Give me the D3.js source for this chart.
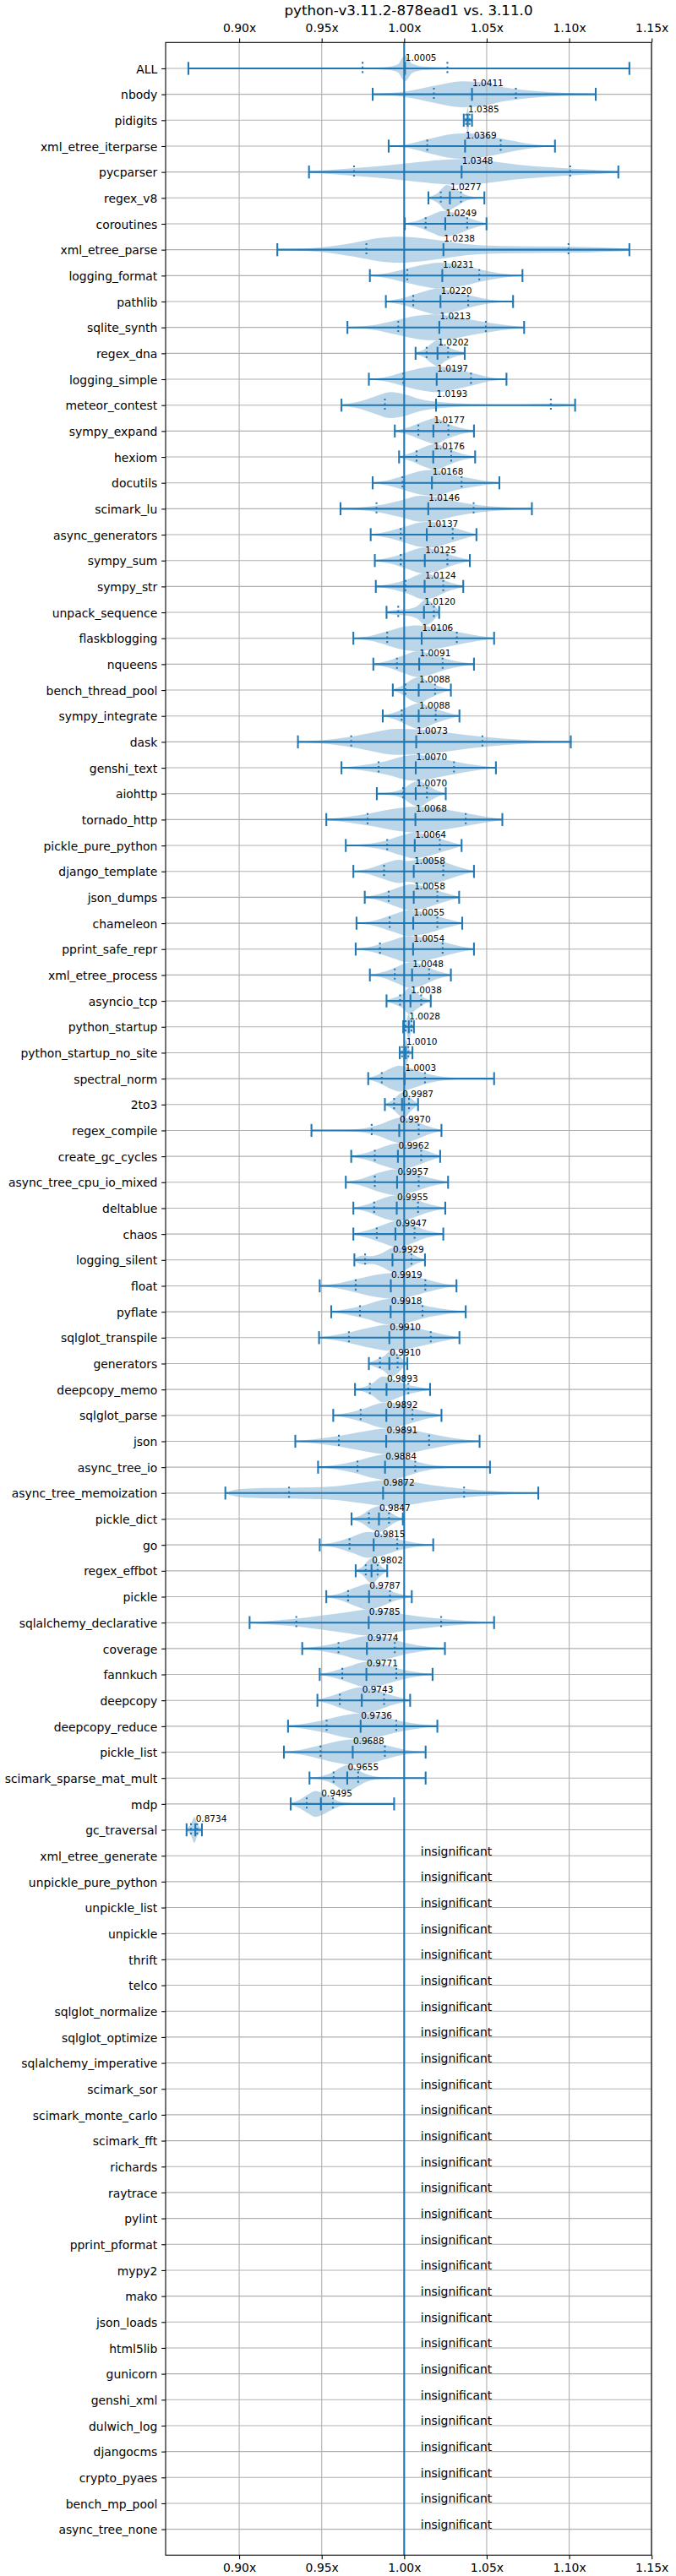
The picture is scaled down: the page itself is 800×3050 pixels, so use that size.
<!DOCTYPE html>
<html>
<head>
<meta charset="utf-8">
<script src="https://cdn.jsdelivr.net/npm/d3@7/dist/d3.min.js"></script>
<style>
  body { margin: 0; background: #fff; }
  svg { display: block; font-family: "DejaVu Sans", sans-serif; }
</style>
</head>
<body>
<svg id="chart" width="800" height="3050"></svg>
<script>
const title = "python-v3.11.2-878ead1 vs. 3.11.0";
const xTicks = [0.90, 0.95, 1.00, 1.05, 1.10, 1.15];

const names = ["ALL","nbody","pidigits","xml_etree_iterparse","pycparser","regex_v8","coroutines","xml_etree_parse","logging_format","pathlib","sqlite_synth","regex_dna","logging_simple","meteor_contest","sympy_expand","hexiom","docutils","scimark_lu","async_generators","sympy_sum","sympy_str","unpack_sequence","flaskblogging","nqueens","bench_thread_pool","sympy_integrate","dask","genshi_text","aiohttp","tornado_http","pickle_pure_python","django_template","json_dumps","chameleon","pprint_safe_repr","xml_etree_process","asyncio_tcp","python_startup","python_startup_no_site","spectral_norm","2to3","regex_compile","create_gc_cycles","async_tree_cpu_io_mixed","deltablue","chaos","logging_silent","float","pyflate","sqlglot_transpile","generators","deepcopy_memo","sqlglot_parse","json","async_tree_io","async_tree_memoization","pickle_dict","go","regex_effbot","pickle","sqlalchemy_declarative","coverage","fannkuch","deepcopy","deepcopy_reduce","pickle_list","scimark_sparse_mat_mult","mdp","gc_traversal"];

const means = [1.0005,1.0411,1.0385,1.0369,1.0348,1.0277,1.0249,1.0238,1.0231,1.0220,1.0213,1.0202,1.0197,1.0193,1.0177,1.0176,1.0168,1.0146,1.0137,1.0125,1.0124,1.0120,1.0106,1.0091,1.0088,1.0088,1.0073,1.0070,1.0070,1.0068,1.0064,1.0058,1.0058,1.0055,1.0054,1.0048,1.0038,1.0028,1.0010,1.0003,0.9987,0.9970,0.9962,0.9957,0.9955,0.9947,0.9929,0.9919,0.9918,0.9910,0.9910,0.9893,0.9892,0.9891,0.9884,0.9872,0.9847,0.9815,0.9802,0.9787,0.9785,0.9774,0.9771,0.9743,0.9736,0.9688,0.9655,0.9495,0.8734];

const mins = [0.8692,0.9809,1.0361,0.9906,0.9423,1.0147,1.0004,0.9231,0.9792,0.9889,0.9656,1.0069,0.9786,0.9620,0.9943,0.9969,0.9809,0.9614,0.9797,0.9822,0.9828,0.9893,0.9692,0.9813,0.9931,0.9870,0.9356,0.9620,0.9834,0.9528,0.9646,0.9692,0.9761,0.9711,0.9706,0.9792,0.9893,0.9994,0.9973,0.9782,0.9883,0.9438,0.9679,0.9646,0.9692,0.9692,0.9698,0.9488,0.9558,0.9484,0.9786,0.9702,0.9570,0.9340,0.9478,0.8916,0.9681,0.9488,0.9706,0.9528,0.9063,0.9382,0.9488,0.9474,0.9296,0.9271,0.9426,0.9312,0.8681];

const maxs = [1.1365,1.1161,1.0411,1.0914,1.1298,1.0486,1.0499,1.1365,1.0717,1.0660,1.0727,1.0367,1.0620,1.1036,1.0423,1.0430,1.0577,1.0774,1.0438,1.0398,1.0358,1.0212,1.0545,1.0423,1.0283,1.0335,1.1010,1.0556,1.0252,1.0595,1.0348,1.0423,1.0333,1.0352,1.0423,1.0283,1.0161,1.0059,1.0050,1.0545,1.0084,1.0226,1.0218,1.0266,1.0249,1.0237,1.0126,1.0317,1.0373,1.0335,1.0019,1.0157,1.0226,1.0457,1.0520,1.0813,0.9992,1.0176,0.9897,1.0046,1.0545,1.0247,1.0172,1.0036,1.0201,1.0130,1.0130,0.9939,0.8774];

const qLow = [0.9748,1.0180,1.0375,1.0140,0.9696,1.0222,1.0130,0.9771,1.0019,1.0055,0.9964,1.0136,0.9995,0.9883,1.0086,1.0075,0.9990,0.9832,0.9979,0.9979,1.0008,0.9964,0.9897,0.9956,1.0008,0.9985,0.9679,0.9845,0.9994,0.9778,0.9897,0.9878,0.9906,0.9912,0.9853,0.9943,0.9975,1.0008,0.9987,0.9864,0.9939,0.9803,0.9822,0.9822,0.9818,0.9834,0.9763,0.9706,0.9732,0.9665,0.9853,0.9792,0.9736,0.9604,0.9717,0.9302,0.9786,0.9669,0.9767,0.9660,0.9346,0.9602,0.9625,0.9610,0.9530,0.9493,0.9572,0.9409,0.8708];

const qHigh = [1.0262,1.0677,1.0396,1.0585,1.1006,1.0344,1.0382,1.0996,1.0455,1.0388,1.0495,1.0266,1.0405,1.0889,1.0268,1.0285,1.0348,1.0421,1.0294,1.0262,1.0237,1.0180,1.0319,1.0233,1.0187,1.0191,1.0474,1.0302,1.0138,1.0373,1.0216,1.0237,1.0201,1.0201,1.0233,1.0151,1.0103,1.0044,1.0025,1.0126,1.0029,1.0088,1.0103,1.0088,1.0084,1.0063,1.0044,1.0128,1.0111,1.0161,0.9960,1.0025,1.0050,1.0151,1.0067,1.0363,0.9908,0.9958,0.9839,0.9914,1.0224,0.9943,0.9952,0.9878,0.9952,0.9883,0.9721,0.9568,0.8745];

// violin outlines: [value, relative half-width]
const shapes = [
 [[0.8692,0.003],[0.95,0.005],[0.975,0.04],[0.99,0.12],[0.996,0.3],[1.0005,1.0],[1.005,0.35],[1.012,0.14],[1.025,0.08],[1.04,0.03],[1.06,0.008],[1.1365,0.003]],
 [[0.9809,0.03],[1.0,0.2],[1.02,0.7],[1.035,1.0],[1.045,0.95],[1.06,0.55],[1.075,0.3],[1.09,0.15],[1.105,0.07],[1.1161,0.03]],
 [[1.0361,0.05],[1.0375,0.3],[1.0385,1.0],[1.0395,0.3],[1.0411,0.05]],
 [[0.9906,0.02],[1.0,0.1],[1.015,0.55],[1.03,0.95],[1.038,1.0],[1.05,0.8],[1.06,0.55],[1.075,0.2],[1.085,0.06],[1.0914,0.02]],
 [[0.9423,0.05],[0.96,0.2],[0.98,0.4],[1.0,0.65],[1.02,0.9],[1.035,1.0],[1.05,0.85],[1.07,0.55],[1.09,0.35],[1.11,0.2],[1.1298,0.05]],
 [[1.0147,0.05],[1.02,0.35],[1.026,1.0],[1.031,0.7],[1.037,0.25],[1.043,0.08],[1.0486,0.02]],
 [[1.0004,0.05],[1.008,0.25],[1.015,0.6],[1.024,1.0],[1.032,0.8],[1.04,0.4],[1.0499,0.05]],
 [[0.9231,0.03],[0.94,0.08],[0.955,0.25],[0.97,0.55],[0.985,0.9],[0.997,1.0],[1.01,0.9],[1.025,0.65],[1.04,0.4],[1.06,0.28],[1.08,0.25],[1.1,0.24],[1.12,0.17],[1.1365,0.08]],
 [[0.9792,0.03],[0.99,0.2],[1.0,0.5],[1.012,0.85],[1.022,1.0],[1.035,0.8],[1.047,0.45],[1.06,0.15],[1.0717,0.03]],
 [[0.9889,0.03],[1.0,0.3],[1.01,0.7],[1.02,1.0],[1.03,0.8],[1.04,0.45],[1.052,0.15],[1.066,0.03]],
 [[0.9656,0.03],[0.98,0.15],[0.995,0.55],[1.008,0.9],[1.018,1.0],[1.03,0.85],[1.045,0.5],[1.06,0.2],[1.0727,0.03]],
 [[1.0069,0.08],[1.012,0.3],[1.017,0.8],[1.02,1.0],[1.025,0.6],[1.03,0.3],[1.0367,0.08]],
 [[0.9786,0.03],[0.99,0.2],[1.0,0.55],[1.012,0.9],[1.02,1.0],[1.03,0.8],[1.042,0.45],[1.052,0.15],[1.062,0.03]],
 [[0.962,0.05],[0.972,0.25],[0.982,0.65],[0.992,1.0],[1.0,0.85],[1.01,0.45],[1.025,0.2],[1.045,0.08],[1.065,0.06],[1.08,0.1],[1.092,0.13],[1.1036,0.06]],
 [[0.9943,0.04],[1.003,0.3],[1.012,0.75],[1.019,1.0],[1.026,0.6],[1.034,0.25],[1.0423,0.04]],
 [[0.9969,0.04],[1.005,0.35],[1.013,0.8],[1.019,1.0],[1.027,0.6],[1.035,0.25],[1.043,0.04]],
 [[0.9809,0.03],[0.99,0.2],[1.0,0.55],[1.012,0.95],[1.018,1.0],[1.03,0.6],[1.04,0.35],[1.05,0.15],[1.0577,0.03]],
 [[0.9614,0.03],[0.975,0.12],[0.985,0.28],[0.998,0.65],[1.01,1.0],[1.02,0.9],[1.032,0.55],[1.045,0.28],[1.06,0.12],[1.0774,0.03]],
 [[0.9797,0.03],[0.99,0.25],[1.0,0.6],[1.01,0.95],[1.016,1.0],[1.026,0.7],[1.035,0.35],[1.0438,0.04]],
 [[0.9822,0.03],[0.992,0.25],[1.002,0.65],[1.012,1.0],[1.02,0.8],[1.03,0.35],[1.0398,0.04]],
 [[0.9828,0.03],[0.992,0.2],[1.002,0.55],[1.012,1.0],[1.018,0.85],[1.026,0.4],[1.0358,0.04]],
 [[0.9893,0.08],[0.995,0.2],[1.002,0.25],[1.008,0.5],[1.013,1.0],[1.017,0.7],[1.0212,0.1]],
 [[0.9692,0.03],[0.98,0.2],[0.99,0.55],[1.0,0.9],[1.008,1.0],[1.02,0.8],[1.032,0.5],[1.045,0.2],[1.0545,0.03]],
 [[0.9813,0.03],[0.99,0.25],[1.0,0.7],[1.008,1.0],[1.016,0.8],[1.026,0.4],[1.035,0.15],[1.0423,0.03]],
 [[0.9931,0.05],[0.999,0.35],[1.005,0.85],[1.009,1.0],[1.015,0.65],[1.022,0.25],[1.0283,0.05]],
 [[0.987,0.04],[0.995,0.3],[1.002,0.7],[1.009,1.0],[1.016,0.7],[1.025,0.3],[1.0335,0.04]],
 [[0.9356,0.03],[0.95,0.12],[0.965,0.35],[0.98,0.7],[0.995,1.0],[1.01,0.95],[1.025,0.75],[1.04,0.5],[1.06,0.25],[1.08,0.1],[1.101,0.03]],
 [[0.962,0.03],[0.975,0.2],[0.99,0.55],[1.002,0.95],[1.008,1.0],[1.02,0.75],[1.032,0.45],[1.045,0.18],[1.0556,0.03]],
 [[0.9834,0.04],[0.992,0.12],[0.999,0.35],[1.005,0.85],[1.009,1.0],[1.015,0.6],[1.02,0.25],[1.0252,0.05]],
 [[0.9528,0.03],[0.965,0.2],[0.98,0.5],[0.995,0.85],[1.007,1.0],[1.02,0.85],[1.035,0.55],[1.048,0.25],[1.0595,0.03]],
 [[0.9646,0.03],[0.975,0.1],[0.988,0.35],[0.998,0.75],[1.006,1.0],[1.015,0.8],[1.024,0.45],[1.0348,0.04]],
 [[0.9692,0.03],[0.978,0.2],[0.99,0.7],[0.997,0.9],[1.002,0.8],[1.012,1.0],[1.022,0.8],[1.033,0.35],[1.0423,0.04]],
 [[0.9761,0.03],[0.985,0.25],[0.995,0.7],[1.004,1.0],[1.012,0.85],[1.022,0.45],[1.0333,0.04]],
 [[0.9711,0.03],[0.982,0.2],[0.993,0.65],[1.003,1.0],[1.012,0.85],[1.024,0.4],[1.0352,0.04]],
 [[0.9706,0.03],[0.98,0.2],[0.992,0.65],[1.002,1.0],[1.012,0.9],[1.025,0.5],[1.035,0.2],[1.0423,0.04]],
 [[0.9792,0.04],[0.988,0.25],[0.996,0.65],[1.004,1.0],[1.01,0.85],[1.018,0.4],[1.0283,0.04]],
 [[0.9893,0.06],[0.994,0.25],[0.999,0.55],[1.003,1.0],[1.008,0.6],[1.012,0.25],[1.0161,0.05]],
 [[0.9994,0.05],[1.001,0.3],[1.0028,1.0],[1.0045,0.3],[1.0059,0.05]],
 [[0.9973,0.05],[0.999,0.3],[1.001,1.0],[1.003,0.3],[1.005,0.05]],
 [[0.9782,0.04],[0.985,0.35],[0.992,0.8],[0.997,1.0],[1.005,0.75],[1.013,0.4],[1.02,0.2],[1.03,0.07],[1.045,0.03],[1.0545,0.02]],
 [[0.9883,0.05],[0.993,0.35],[0.998,0.9],[1.0,1.0],[1.004,0.5],[1.0084,0.05]],
 [[0.9438,0.02],[0.96,0.04],[0.975,0.15],[0.985,0.45],[0.993,0.85],[0.999,1.0],[1.007,0.7],[1.015,0.3],[1.0226,0.04]],
 [[0.9679,0.04],[0.978,0.3],[0.988,0.75],[0.996,1.0],[1.004,0.85],[1.013,0.45],[1.0218,0.05]],
 [[0.9646,0.03],[0.975,0.3],[0.985,0.75],[0.995,1.0],[1.004,0.8],[1.015,0.35],[1.0266,0.04]],
 [[0.9692,0.04],[0.978,0.3],[0.988,0.8],[0.996,1.0],[1.004,0.8],[1.014,0.35],[1.0249,0.04]],
 [[0.9692,0.04],[0.978,0.3],[0.987,0.7],[0.995,1.0],[1.003,0.8],[1.012,0.35],[1.0237,0.04]],
 [[0.9698,0.08],[0.975,0.35],[0.98,0.3],[0.986,0.5],[0.993,0.95],[0.997,1.0],[1.003,0.6],[1.008,0.25],[1.0126,0.06]],
 [[0.9488,0.03],[0.96,0.2],[0.972,0.55],[0.985,0.9],[0.993,1.0],[1.003,0.85],[1.015,0.45],[1.025,0.15],[1.0317,0.03]],
 [[0.9558,0.03],[0.965,0.2],[0.977,0.55],[0.988,0.95],[0.993,1.0],[1.003,0.8],[1.015,0.4],[1.027,0.15],[1.0373,0.03]],
 [[0.9484,0.03],[0.958,0.2],[0.968,0.45],[0.98,0.8],[0.99,1.0],[1.0,0.9],[1.012,0.6],[1.022,0.3],[1.0335,0.03]],
 [[0.9786,0.06],[0.983,0.3],[0.988,0.6],[0.992,1.0],[0.996,0.75],[0.9995,0.3],[1.0019,0.05]],
 [[0.9702,0.04],[0.976,0.2],[0.981,0.5],[0.987,1.0],[0.993,0.8],[1.0,0.45],[1.008,0.2],[1.0157,0.04]],
 [[0.957,0.03],[0.966,0.2],[0.976,0.55],[0.986,0.95],[0.991,1.0],[1.0,0.75],[1.011,0.35],[1.0226,0.04]],
 [[0.934,0.03],[0.945,0.15],[0.96,0.4],[0.975,0.75],[0.99,1.0],[1.003,0.9],[1.017,0.55],[1.03,0.25],[1.0457,0.03]],
 [[0.9478,0.03],[0.958,0.15],[0.97,0.45],[0.98,0.8],[0.99,1.0],[1.0,0.75],[1.01,0.35],[1.02,0.12],[1.035,0.04],[1.052,0.02]],
 [[0.8916,0.05],[0.9,0.3],[0.915,0.4],[0.93,0.42],[0.945,0.45],[0.96,0.55],[0.975,0.8],[0.99,1.0],[1.0,0.95],[1.015,0.65],[1.035,0.35],[1.055,0.15],[1.0813,0.03]],
 [[0.9681,0.05],[0.974,0.3],[0.98,0.8],[0.985,1.0],[0.99,0.65],[0.995,0.25],[0.9992,0.05]],
 [[0.9488,0.03],[0.958,0.2],[0.968,0.6],[0.978,1.0],[0.986,0.85],[0.996,0.45],[1.007,0.15],[1.0176,0.03]],
 [[0.9706,0.05],[0.975,0.35],[0.979,0.9],[0.981,1.0],[0.984,0.6],[0.987,0.25],[0.9897,0.05]],
 [[0.9528,0.04],[0.962,0.3],[0.97,0.7],[0.978,1.0],[0.986,0.75],[0.995,0.3],[1.0046,0.04]],
 [[0.9063,0.03],[0.92,0.15],[0.935,0.3],[0.95,0.55],[0.965,0.8],[0.978,1.0],[0.99,0.85],[1.005,0.55],[1.022,0.3],[1.04,0.12],[1.0545,0.03]],
 [[0.9382,0.03],[0.95,0.2],[0.962,0.5],[0.972,0.85],[0.98,1.0],[0.99,0.8],[1.002,0.4],[1.014,0.15],[1.0247,0.03]],
 [[0.9488,0.03],[0.957,0.25],[0.966,0.6],[0.975,0.95],[0.98,1.0],[0.99,0.7],[1.0,0.35],[1.0172,0.03]],
 [[0.9474,0.04],[0.955,0.3],[0.965,0.75],[0.974,1.0],[0.982,0.85],[0.992,0.4],[1.0036,0.04]],
 [[0.9296,0.03],[0.94,0.2],[0.952,0.5],[0.964,0.85],[0.974,1.0],[0.985,0.8],[0.998,0.4],[1.01,0.15],[1.0201,0.03]],
 [[0.9271,0.03],[0.938,0.2],[0.95,0.55],[0.96,0.85],[0.97,1.0],[0.98,0.85],[0.99,0.5],[1.0,0.2],[1.013,0.03]],
 [[0.9426,0.04],[0.95,0.15],[0.956,0.4],[0.962,0.85],[0.966,1.0],[0.971,0.7],[0.977,0.3],[0.985,0.08],[1.0,0.03],[1.013,0.02]],
 [[0.9312,0.05],[0.937,0.35],[0.942,0.75],[0.946,1.0],[0.951,0.8],[0.957,0.4],[0.963,0.12],[0.975,0.03],[0.9939,0.02]],
 [[0.8681,0.05],[0.871,0.5],[0.8728,1.0],[0.8745,0.5],[0.8774,0.05]]
];

const insignificant = ["xml_etree_generate","unpickle_pure_python","unpickle_list","unpickle","thrift","telco","sqlglot_normalize","sqlglot_optimize","sqlalchemy_imperative","scimark_sor","scimark_monte_carlo","scimark_fft","richards","raytrace","pylint","pprint_pformat","mypy2","mako","json_loads","html5lib","gunicorn","genshi_xml","dulwich_log","djangocms","crypto_pyaes","bench_mp_pool","async_tree_none"];

// ---------- drawing ----------
const C0 = "#1f77b4";
const W = 800, H = 3050;
const plot = {left: 196, right: 771, top: 50.3, bottom: 3025.3};
const allRows = names.concat(insignificant);
const nRows = allRows.length;

const x = d3.scaleLinear().domain([0.8554, 1.1499]).range([plot.left, plot.right]);
const y = d3.scaleLinear().domain([0, nRows + 1]).range([plot.top, plot.bottom]);
const rowH = y(1) - y(0);
const halfMax = 0.5 * rowH;
const lineHalf = 0.25 * rowH;

const svg = d3.select("#chart");
svg.append("rect").attr("width", W).attr("height", H).attr("fill", "#fff");

// title
svg.append("text")
  .attr("x", (plot.left + plot.right) / 2).attr("y", 17.5)
  .attr("text-anchor", "middle").attr("font-size", "16.7px").attr("fill", "#000")
  .text(title);

// violin bodies
const area = d3.area()
  .curve(d3.curveMonotoneX)
  .x(d => x(d[0]));

const gBodies = svg.append("g");
names.forEach((n, i) => {
  const yc = y(i + 1);
  gBodies.append("path")
    .datum(shapes[i])
    .attr("d", area.y0(d => yc - d[1] * halfMax).y1(d => yc + d[1] * halfMax))
    .attr("fill", C0).attr("fill-opacity", 0.3);
});

// grid
const gGrid = svg.append("g").attr("stroke", "#b0b0b0").attr("stroke-width", 1.1);
xTicks.forEach(t => {
  gGrid.append("line").attr("x1", x(t)).attr("x2", x(t)).attr("y1", plot.top).attr("y2", plot.bottom);
});
allRows.forEach((n, i) => {
  gGrid.append("line").attr("x1", plot.left).attr("x2", plot.right).attr("y1", y(i + 1)).attr("y2", y(i + 1));
});

// violin lines
const gLines = svg.append("g").attr("stroke", C0).attr("stroke-width", 2.08);
names.forEach((n, i) => {
  const yc = y(i + 1);
  gLines.append("line").attr("x1", x(mins[i])).attr("x2", x(maxs[i])).attr("y1", yc).attr("y2", yc);
  [mins[i], maxs[i], means[i]].forEach(v => {
    gLines.append("line").attr("x1", x(v)).attr("x2", x(v))
      .attr("y1", yc - lineHalf).attr("y2", yc + lineHalf);
  });
  [qLow[i], qHigh[i]].forEach(v => {
    gLines.append("line").attr("x1", x(v)).attr("x2", x(v))
      .attr("y1", yc - lineHalf).attr("y2", yc + lineHalf)
      .attr("stroke-dasharray", "2.1 3.4");
  });
});

// reference line at 1.00x
svg.append("line").attr("x1", x(1)).attr("x2", x(1))
  .attr("y1", plot.top).attr("y2", plot.bottom)
  .attr("stroke", C0).attr("stroke-width", 2.08);

// mean annotations
const gAnn = svg.append("g").attr("font-size", "10.5px").attr("fill", "#000");
names.forEach((n, i) => {
  gAnn.append("text").attr("x", x(means[i]) + 0.5).attr("y", y(i + 1) - 0.3 * rowH)
    .text(means[i].toFixed(4));
});
insignificant.forEach((n, j) => {
  const i = names.length + j;
  svg.append("text").attr("x", x(1.01)).attr("y", y(i + 1) - 0.5)
    .attr("font-size", "13.9px").attr("fill", "#000")
    .text("insignificant");
});

// axes
const fmt = d => d.toFixed(2) + "x";
const axTop = svg.append("g").attr("transform", `translate(0,${plot.top})`)
  .call(d3.axisTop(x).tickValues(xTicks).tickFormat(fmt).tickSize(4.86).tickPadding(7.2));
const axBot = svg.append("g").attr("transform", `translate(0,${plot.bottom})`)
  .call(d3.axisBottom(x).tickValues(xTicks).tickFormat(fmt).tickSize(4.86).tickPadding(4.86));
const yBand = d3.scalePoint().domain(allRows).range([y(1), y(nRows)]);
const axLeft = svg.append("g").attr("transform", `translate(${plot.left},0)`)
  .call(d3.axisLeft(yBand).tickSize(4.86).tickPadding(4.86));

[axTop, axBot, axLeft].forEach(a => {
  a.select(".domain").remove();
  a.selectAll(".tick line").attr("stroke", "#000").attr("stroke-width", 1.1);
  a.selectAll(".tick text").attr("font-family", "DejaVu Sans").attr("font-size", "13.9px").attr("fill", "#000");
});
axLeft.selectAll(".tick text").attr("dy", "0.37em");

// frame
svg.append("rect").attr("x", plot.left).attr("y", plot.top)
  .attr("width", plot.right - plot.left).attr("height", plot.bottom - plot.top)
  .attr("fill", "none").attr("stroke", "#000").attr("stroke-width", 1.1);
</script>
</body>
</html>
